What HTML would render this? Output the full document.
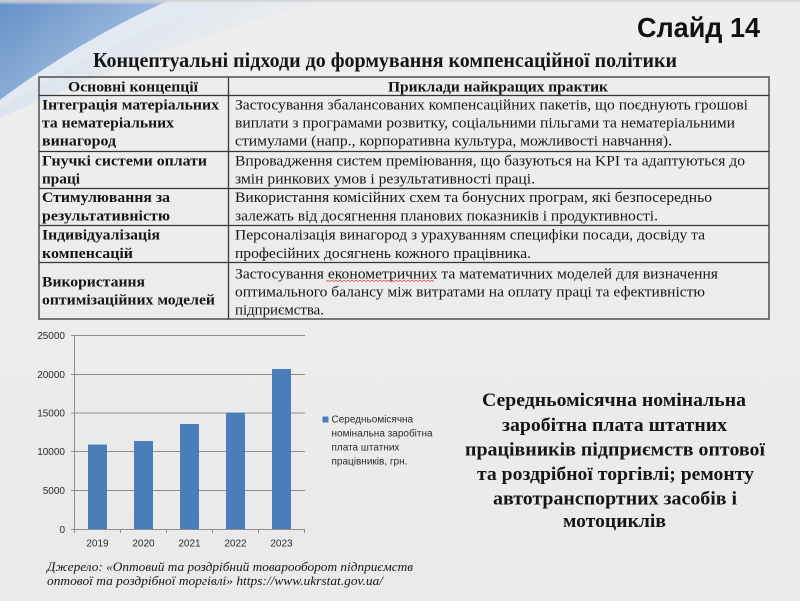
<!DOCTYPE html>
<html><head><meta charset="utf-8"><style>
html,body{margin:0;padding:0;width:800px;height:601px;overflow:hidden;background:#ececec}
svg{display:block}
.s{font-family:"Liberation Serif","DejaVu Serif",serif;fill:#151515}
.b{font-weight:bold}
.a{font-family:"Liberation Sans","DejaVu Sans",sans-serif;fill:#2a2a2a;font-size:10px}
</style></head><body>
<svg width="800" height="601" viewBox="0 0 800 601" xmlns="http://www.w3.org/2000/svg">
<defs>
<linearGradient id="bg" x1="0" y1="0" x2="0" y2="1">
<stop offset="0" stop-color="#eeeeee"/><stop offset="1" stop-color="#eaeaea"/></linearGradient>
<linearGradient id="sw" x1="0" y1="0" x2="1" y2="0.7">
<stop offset="0" stop-color="#6590c6"/><stop offset="0.6" stop-color="#93b3da"/><stop offset="1" stop-color="#bfd1e8"/></linearGradient>
<linearGradient id="sw2" x1="0" y1="0" x2="1" y2="0.5">
<stop offset="0" stop-color="#c3d4ea" stop-opacity="0.9"/><stop offset="1" stop-color="#eef1f5" stop-opacity="0.2"/></linearGradient>
<linearGradient id="top" x1="0" y1="0" x2="0" y2="1">
<stop offset="0" stop-color="#cfcfcf"/><stop offset="1" stop-color="#ececec" stop-opacity="0"/></linearGradient>
</defs>
<rect width="800" height="601" fill="url(#bg)"/>
<path d="M0,0 L330,0 C220,25 110,70 0,118 Z" fill="url(#sw2)"/>
<path d="M0,0 L170,0 C120,22 60,55 0,100 Z" fill="url(#sw)"/>
<path d="M170,0 L215,0 C150,28 70,65 0,108 L0,100 C60,55 120,22 170,0 Z" fill="#e4ebf4" opacity="0.7"/>
<rect width="800" height="5" fill="url(#top)"/>

<text x="637" y="37" class="b" font-family="Liberation Sans, sans-serif" font-size="28" fill="#111" textLength="123" lengthAdjust="spacingAndGlyphs">Слайд 14</text>
<text x="93" y="67" class="s b" font-size="21" textLength="584" lengthAdjust="spacingAndGlyphs">Концептуальні підходи до формування компенсаційної політики</text>

<g stroke="#363636" stroke-width="1.3" fill="none">
<rect x="39" y="77" width="730" height="242"/>
<line x1="228.5" y1="77" x2="228.5" y2="319"/>
<line x1="39" y1="95.5" x2="769" y2="95.5"/>
<line x1="39" y1="151.5" x2="769" y2="151.5"/>
<line x1="39" y1="188.5" x2="769" y2="188.5"/>
<line x1="39" y1="225.5" x2="769" y2="225.5"/>
<line x1="39" y1="262.5" x2="769" y2="262.5"/>
</g>

<g class="s b" font-size="15">
<text x="68" y="91.5" textLength="130" lengthAdjust="spacingAndGlyphs">Основні концепції</text>
<text x="388" y="91.5" textLength="220" lengthAdjust="spacingAndGlyphs">Приклади найкращих практик</text>
<text x="42" y="109.5" textLength="177" lengthAdjust="spacingAndGlyphs">Інтеграція матеріальних</text>
<text x="42" y="127.5" textLength="132" lengthAdjust="spacingAndGlyphs">та нематеріальних</text>
<text x="42" y="145.5" textLength="74" lengthAdjust="spacingAndGlyphs">винагород</text>
<text x="42" y="165.5" textLength="165" lengthAdjust="spacingAndGlyphs">Гнучкі системи оплати</text>
<text x="42" y="183.5" textLength="38" lengthAdjust="spacingAndGlyphs">праці</text>
<text x="42" y="202" textLength="128" lengthAdjust="spacingAndGlyphs">Стимулювання за</text>
<text x="42" y="220.5" textLength="128" lengthAdjust="spacingAndGlyphs">результативністю</text>
<text x="42" y="239.5" textLength="118" lengthAdjust="spacingAndGlyphs">Індивідуалізація</text>
<text x="42" y="258" textLength="91" lengthAdjust="spacingAndGlyphs">компенсацій</text>
<text x="42" y="286.5" textLength="103" lengthAdjust="spacingAndGlyphs">Використання</text>
<text x="42" y="304.5" textLength="173" lengthAdjust="spacingAndGlyphs">оптимізаційних моделей</text>
</g>

<g class="s" font-size="15">
<text x="235" y="109.5" textLength="513" lengthAdjust="spacingAndGlyphs">Застосування збалансованих компенсаційних пакетів, що поєднують грошові</text>
<text x="235" y="127.5" textLength="500" lengthAdjust="spacingAndGlyphs">виплати з програмами розвитку, соціальними пільгами та нематеріальними</text>
<text x="235" y="145.5" textLength="437" lengthAdjust="spacingAndGlyphs">стимулами (напр., корпоративна культура, можливості навчання).</text>
<text x="235" y="165.5" textLength="510" lengthAdjust="spacingAndGlyphs">Впровадження систем преміювання, що базуються на KPI та адаптуються до</text>
<text x="235" y="183.5" textLength="300" lengthAdjust="spacingAndGlyphs">змін ринкових умов і результативності праці.</text>
<text x="235" y="202" textLength="477" lengthAdjust="spacingAndGlyphs">Використання комісійних схем та бонусних програм, які безпосередньо</text>
<text x="235" y="220.5" textLength="423" lengthAdjust="spacingAndGlyphs">залежать від досягнення планових показників і продуктивності.</text>
<text x="235" y="239.5" textLength="470" lengthAdjust="spacingAndGlyphs">Персоналізація винагород з урахуванням специфіки посади, досвіду та</text>
<text x="235" y="258" textLength="296" lengthAdjust="spacingAndGlyphs">професійних досягнень кожного працівника.</text>
<text x="235" y="278.5" textLength="483" lengthAdjust="spacingAndGlyphs">Застосування економетричних та математичних моделей для визначення</text>
<text x="235" y="296.5" textLength="470" lengthAdjust="spacingAndGlyphs">оптимального балансу між витратами на оплату праці та ефективністю</text>
<text x="235" y="314.5" textLength="89" lengthAdjust="spacingAndGlyphs">підприємства.</text>
</g>
<path d="M326,281.5 l2,-1.2 l2,1.2 l2,-1.2 l2,1.2 l2,-1.2 l2,1.2 l2,-1.2 l2,1.2 l2,-1.2 l2,1.2 l2,-1.2 l2,1.2 l2,-1.2 l2,1.2 l2,-1.2 l2,1.2 l2,-1.2 l2,1.2 l2,-1.2 l2,1.2 l2,-1.2 l2,1.2 l2,-1.2 l2,1.2 l2,-1.2 l2,1.2 l2,-1.2 l2,1.2 l2,-1.2 l2,1.2 l2,-1.2 l2,1.2 l2,-1.2 l2,1.2 l2,-1.2 l2,1.2 l2,-1.2 l2,1.2 l2,-1.2 l2,1.2 l2,-1.2 l2,1.2 l2,-1.2 l2,1.2 l2,-1.2 l2,1.2 l2,-1.2 l2,1.2 l2,-1.2 l2,1.2 l2,-1.2 l2,1.2 l2,-1.2 l2,1.2" stroke="#d9534f" stroke-width="0.8" fill="none"/>

<!-- chart -->
<g stroke="#8c8c8c" stroke-width="1">
<line x1="74" y1="335.5" x2="305" y2="335.5"/>
<line x1="74" y1="374.5" x2="305" y2="374.5"/>
<line x1="74" y1="413" x2="305" y2="413"/>
<line x1="74" y1="451.5" x2="305" y2="451.5"/>
<line x1="74" y1="490.5" x2="305" y2="490.5"/>
</g>
<g fill="#4a7ebb">
<rect x="88" y="444.5" width="19" height="84.5"/>
<rect x="134" y="441" width="19" height="88"/>
<rect x="180" y="424" width="19" height="105"/>
<rect x="226" y="412.5" width="19" height="116.5"/>
<rect x="272" y="369" width="19" height="160"/>
</g>
<g stroke="#8c8c8c" stroke-width="1">
<line x1="74.5" y1="335" x2="74.5" y2="529"/>
<line x1="74" y1="529.5" x2="305" y2="529.5"/>
<line x1="71" y1="335.5" x2="74" y2="335.5"/>
<line x1="71" y1="374.5" x2="74" y2="374.5"/>
<line x1="71" y1="413" x2="74" y2="413"/>
<line x1="71" y1="451.5" x2="74" y2="451.5"/>
<line x1="71" y1="490.5" x2="74" y2="490.5"/>
<line x1="71" y1="529.5" x2="74" y2="529.5"/>
<line x1="74.5" y1="529" x2="74.5" y2="533"/>
<line x1="120.5" y1="529" x2="120.5" y2="533"/>
<line x1="166.5" y1="529" x2="166.5" y2="533"/>
<line x1="212.5" y1="529" x2="212.5" y2="533"/>
<line x1="258.5" y1="529" x2="258.5" y2="533"/>
<line x1="304.5" y1="529" x2="304.5" y2="533"/>
</g>
<g class="a" text-anchor="end">
<text x="65" y="339">25000</text>
<text x="65" y="378">20000</text>
<text x="65" y="416.5">15000</text>
<text x="65" y="455">10000</text>
<text x="65" y="494">5000</text>
<text x="65" y="533">0</text>
</g>
<g class="a" text-anchor="middle">
<text x="97.5" y="546.5">2019</text>
<text x="143.5" y="546.5">2020</text>
<text x="189.5" y="546.5">2021</text>
<text x="235.5" y="546.5">2022</text>
<text x="281.5" y="546.5">2023</text>
</g>
<rect x="322.5" y="416.5" width="6" height="6" fill="#4a7ebb"/>
<g class="a" font-size="9.5">
<text x="331.5" y="422.5">Середньомісячна</text>
<text x="331.5" y="436.5">номінальна заробітна</text>
<text x="331.5" y="450.5">плата штатних</text>
<text x="331.5" y="464.5">працівників, грн.</text>
</g>

<g class="s b" font-size="19">
<text x="482" y="406" textLength="264" lengthAdjust="spacingAndGlyphs">Середньомісячна номінальна</text>
<text x="502" y="431" textLength="225" lengthAdjust="spacingAndGlyphs">заробітна плата штатних</text>
<text x="465" y="455.5" textLength="300" lengthAdjust="spacingAndGlyphs">працівників підприємств оптової</text>
<text x="477" y="480" textLength="277" lengthAdjust="spacingAndGlyphs">та роздрібної торгівлі; ремонту</text>
<text x="493" y="504.5" textLength="244" lengthAdjust="spacingAndGlyphs">автотранспортних засобів і</text>
<text x="563" y="527" textLength="103" lengthAdjust="spacingAndGlyphs">мотоциклів</text>
</g>

<g class="s" font-size="13" font-style="italic">
<text x="47" y="571" textLength="366" lengthAdjust="spacingAndGlyphs">Джерело: «Оптовий та роздрібний товарооборот підприємств</text>
<text x="47" y="585" textLength="336" lengthAdjust="spacingAndGlyphs">оптової та роздрібної торгівлі» https://www.ukrstat.gov.ua/</text>
</g>
</svg>
</body></html>
